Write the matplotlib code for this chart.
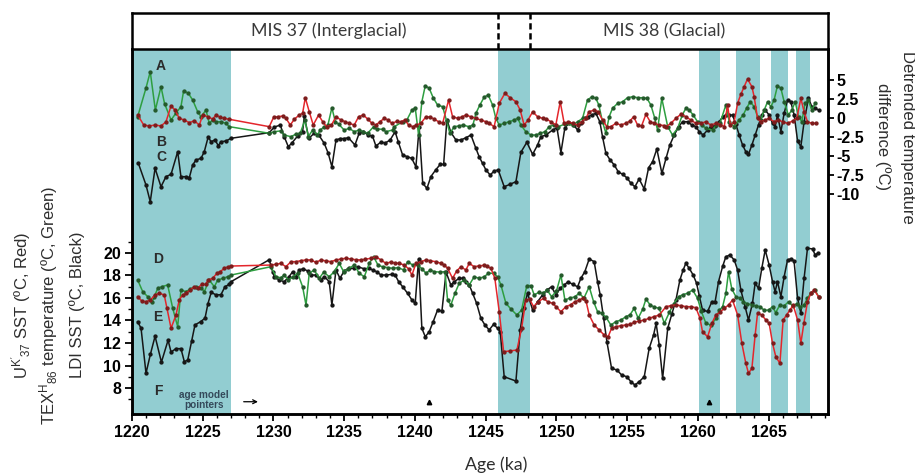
import matplotlib
matplotlib.use("Agg")
import matplotlib.pyplot as plt
from matplotlib.ticker import MultipleLocator, FixedLocator

plt.rcParams['axes.unicode_minus'] = False
plt.rcParams['mathtext.fontset'] = 'custom'
plt.rcParams['mathtext.rm'] = 'Liberation Sans'
plt.rcParams['mathtext.it'] = 'Liberation Sans:italic'

# ---------------- detrended temperature differences (upper traces) ----------------
age_uk_diff = [1220.40, 1220.83, 1221.22, 1221.63, 1222.05, 1222.40, 1222.76, 1223.04, 1223.34, 1223.70,
               1224.05, 1224.40, 1224.76, 1225.00, 1225.35, 1225.70, 1225.94, 1226.20, 1226.52, 1226.88,
               1229.70, 1230.01, 1230.30, 1230.65, 1230.88, 1231.19, 1231.47, 1231.82, 1232.06, 1232.25,
               1232.53, 1232.81, 1233.19, 1233.48, 1233.76, 1234.10, 1234.42, 1234.77, 1235.07, 1235.36,
               1235.71, 1236.02, 1236.35, 1236.66, 1236.96, 1237.24, 1237.53, 1237.83, 1238.10, 1238.37,
               1238.70, 1239.01, 1239.30, 1239.55, 1239.84, 1240.10, 1240.42, 1240.78, 1241.05, 1241.36,
               1241.67, 1241.96, 1242.38, 1242.66, 1243.02, 1243.30, 1243.60, 1243.96, 1244.31, 1244.66,
               1245.02, 1245.25, 1245.60, 1245.96, 1246.36, 1246.73, 1247.14, 1247.44, 1247.72, 1248.00,
               1248.32, 1248.67, 1249.02, 1249.30, 1249.61, 1249.96, 1250.27, 1250.55, 1250.85, 1251.14,
               1251.50, 1251.80, 1252.08, 1252.32, 1252.67, 1252.95, 1253.26, 1253.57, 1253.85, 1254.20,
               1254.56, 1254.91, 1255.20, 1255.46, 1255.74, 1256.02, 1256.33, 1256.63, 1256.91, 1257.27,
               1257.60, 1257.75, 1258.09, 1258.45, 1258.80, 1259.15, 1259.50, 1259.86, 1260.21, 1260.55,
               1260.92, 1261.27, 1261.60, 1261.86, 1262.10, 1262.30, 1262.57, 1262.81, 1263.04, 1263.27,
               1263.51, 1263.82, 1263.98, 1264.22, 1264.45, 1264.75, 1265.04, 1265.39, 1265.70, 1265.99,
               1266.34, 1266.70, 1267.00, 1267.28, 1267.51, 1267.75, 1268.06, 1268.34]
uk_diff = [0.39, -0.92, -1.05, -0.92, -1.05, -0.50, 1.58, 1.05, -0.04, -0.26,
           -0.62, -0.36, -0.92, 0.39, 0.17, -0.13, 0.39, 0.13, -0.04, -0.17,
           -1.14, 0.09, 0.17, 0.26, -0.04, -0.92, -0.17, 0.39, 0.62, 2.67,
           0.83, -0.92, 0.39, -0.49, -1.14, -0.92, 0.17, -0.26, -0.49, -0.70,
           -0.92, 0.17, 0.39, -0.13, -0.70, -0.92, -0.49, -0.04, -0.26, -0.70,
           -0.46, -0.49, -0.26, -0.92, -1.14, -0.92, -0.70, 0.17, 0.13, -0.13,
           -0.49, -0.70, 2.37, 0.17, -0.04, 0.13, 0.39, 0.17, -0.04, -0.26,
           -0.49, -0.70, -1.14, 1.93, 3.25, 2.67, 2.14, 1.05, -0.92, -0.26,
           0.83, 0.17, -0.04, -0.13, -0.49, -0.92, 2.14, -0.70, -0.50, -0.70,
           -0.92, -0.50, -0.04, 0.83, 1.05, 0.83, -0.26, -1.14, -1.14, -0.70,
           -0.92, -0.70, -0.40, 0.17, -0.92, -1.05, 0.49, -0.49, -0.70, -0.92,
           -0.99, -1.14, -0.70, -0.04, 0.49, 0.17, -0.26, -0.70, -0.70, -0.50,
           -0.92, -0.70, -0.86, -1.14, 1.71, -0.92, -0.49, 1.93, 3.12, 4.12,
           5.13, 4.12, 2.80, -0.04, -0.49, -0.26, -0.04, -0.49, -0.26, -0.49,
           -0.70, -0.39, 0.00, 2.59, 0.83, -0.49, -0.70, -0.70]

age_tex_diff = [1220.40, 1220.99, 1221.29, 1221.65, 1222.05, 1222.30, 1222.76, 1223.10, 1223.46, 1223.65,
                1223.98, 1224.29, 1224.64, 1224.88, 1225.23, 1225.46, 1225.70, 1225.94, 1226.29, 1226.64,
                1226.88, 1229.70, 1230.06, 1230.50, 1230.76, 1231.24, 1231.60, 1231.89, 1232.23, 1232.46,
                1232.77, 1233.10, 1233.31, 1233.59, 1233.85, 1234.13, 1234.37, 1234.60, 1235.00, 1235.36,
                1235.71, 1236.06, 1236.35, 1236.66, 1237.08, 1237.29, 1237.72, 1237.95, 1238.42, 1238.54,
                1239.13, 1239.43, 1239.79, 1240.02, 1240.26, 1240.49, 1240.73, 1241.01, 1241.29, 1241.60,
                1241.96, 1242.24, 1242.47, 1242.78, 1243.10, 1243.41, 1243.80, 1244.10, 1244.31, 1244.59,
                1244.90, 1245.18, 1245.49, 1245.72, 1245.96, 1246.31, 1246.66, 1247.02, 1247.26, 1247.49,
                1247.84, 1248.20, 1248.55, 1248.86, 1249.19, 1249.49, 1249.80, 1250.13, 1250.60, 1251.14,
                1251.50, 1251.85, 1252.20, 1252.51, 1252.79, 1253.00, 1253.26, 1253.50, 1253.73, 1253.97,
                1254.33, 1254.68, 1255.03, 1255.39, 1255.74, 1256.09, 1256.40, 1256.68, 1256.95, 1257.15,
                1257.45, 1257.87, 1258.21, 1258.57, 1258.90, 1259.15, 1259.39, 1259.67, 1259.98, 1260.28,
                1260.57, 1261.04, 1261.30, 1261.56, 1261.98, 1262.22, 1262.57, 1262.92, 1263.20, 1263.44,
                1263.70, 1263.98, 1264.22, 1264.45, 1264.69, 1264.93, 1265.16, 1265.39, 1265.63, 1265.87,
                1266.10, 1266.40, 1266.65, 1266.88, 1267.12, 1267.35, 1267.58, 1267.80, 1268.06, 1268.29]
tex_diff = [0.17, 3.95, 6.09, 1.05, 4.12, 1.90, -0.26, 0.62, 1.49, 3.59,
            3.25, 2.37, 0.83, 0.17, 1.05, -0.70, -0.26, -0.49, -0.49, -0.70,
            -1.14, -2.01, -1.80, -1.70, -2.24, -2.46, -2.10, -2.01, -0.26, -2.46,
            -1.58, -2.24, -1.58, -1.14, -0.92, 1.36, -0.49, -0.80, -1.58, -1.36,
            -1.80, -1.58, -1.80, -2.01, -1.14, -1.45, -1.49, -1.80, -1.58, -1.14,
            -0.49, -0.26, 1.05, 1.36, -2.24, 2.14, 4.25, 3.91, 2.67, 1.71,
            1.49, -0.39, -2.01, -1.14, -1.05, -0.92, -1.14, -0.92, 0.62, 1.71,
            2.76, 3.03, 1.71, -0.04, -0.92, -0.70, -0.49, -0.26, -0.04, -0.92,
            -1.80, -2.24, -2.24, -2.01, -1.80, -1.14, -0.92, -1.14, -0.80, -0.92,
            -0.50, -0.04, 2.37, 2.80, 2.59, 1.71, -0.49, -2.01, 0.17, 1.28,
            1.93, 2.14, 2.67, 2.80, 2.67, 2.67, 2.59, 1.71, 0.00, -1.58,
            2.59, -1.14, -2.24, -1.36, 0.39, 1.28, 1.05, 0.39, -0.49, -0.92,
            -1.36, -1.58, -0.92, -0.70, 1.71, -0.49, -1.14, -0.26, 0.39, 1.28,
            2.14, 1.49, 0.17, -0.26, 1.05, 2.14, 1.49, 2.37, 4.25, 3.91,
            2.14, 0.39, 1.05, 2.14, 0.17, -0.49, 1.93, 2.37, 1.05, 1.93]

age_ldi_diff = [1220.45, 1220.99, 1221.29, 1221.63, 1222.05, 1222.40, 1222.76, 1223.23, 1223.46, 1223.82,
                1224.05, 1224.29, 1224.52, 1224.88, 1225.11, 1225.39, 1225.58, 1225.87, 1226.10, 1226.29,
                1226.64, 1227.00, 1229.70, 1230.06, 1230.48, 1230.76, 1231.05, 1231.30, 1231.71, 1232.06,
                1232.18, 1232.50, 1232.88, 1233.20, 1233.59, 1233.87, 1234.13, 1234.42, 1234.72, 1235.00,
                1235.30, 1235.76, 1236.06, 1236.35, 1236.70, 1237.00, 1237.24, 1237.60, 1237.90, 1238.25,
                1238.60, 1238.82, 1239.13, 1239.46, 1239.77, 1240.07, 1240.30, 1240.55, 1240.85, 1241.13,
                1241.48, 1241.79, 1242.03, 1242.26, 1242.54, 1242.90, 1243.25, 1243.60, 1243.96, 1244.31,
                1244.54, 1244.78, 1245.02, 1245.32, 1245.60, 1245.89, 1246.31, 1246.73, 1247.14, 1247.49,
                1247.91, 1248.32, 1248.67, 1248.90, 1249.26, 1249.73, 1250.04, 1250.32, 1250.60, 1250.90,
                1251.22, 1251.50, 1251.73, 1252.01, 1252.25, 1252.49, 1252.79, 1253.07, 1253.26, 1253.50,
                1253.80, 1254.09, 1254.37, 1254.68, 1254.98, 1255.27, 1255.55, 1255.85, 1256.21, 1256.52,
                1256.80, 1257.10, 1257.46, 1257.75, 1258.02, 1258.33, 1258.64, 1258.92, 1259.27, 1259.58,
                1259.86, 1260.10, 1260.37, 1260.69, 1260.92, 1261.22, 1261.51, 1261.75, 1261.98, 1262.20,
                1262.45, 1262.69, 1262.92, 1263.16, 1263.39, 1263.58, 1263.82, 1264.05, 1264.29, 1264.52,
                1264.76, 1265.04, 1265.28, 1265.46, 1265.63, 1265.87, 1266.10, 1266.34, 1266.57, 1266.81,
                1267.05, 1267.28, 1267.51, 1267.82, 1268.06, 1268.29, 1268.53]
ldi_diff = [-5.96, -8.82, -11.01, -6.62, -9.04, -7.72, -7.41, -4.43, -7.72, -7.72,
            -7.86, -6.18, -5.53, -5.30, -4.43, -2.46, -3.12, -2.89, -3.64, -3.12,
            -3.03, -2.67, -1.93, -1.20, -0.92, -2.46, -3.78, -3.29, -2.37, -1.80,
            0.20, -2.67, -2.01, -2.24, -3.33, -4.64, -6.41, -2.90, -2.70, -2.70,
            -2.60, -3.55, -2.00, -1.80, -2.24, -2.37, -3.68, -3.16, -3.29, -2.89,
            -1.80, -3.12, -4.87, -5.09, -5.30, -6.41, -1.20, -8.60, -9.25, -7.70,
            -6.80, -6.10, -6.10, -0.20, -1.90, -2.89, -2.89, -2.60, -2.24, -3.99,
            -5.09, -5.96, -6.84, -7.50, -6.97, -6.84, -9.04, -8.72, -8.38, -4.51,
            -3.20, -4.78, -3.55, -2.46, -2.24, -1.58, -1.28, -4.57, -1.28, -0.70,
            -0.92, -1.58, -0.70, -0.04, 0.17, 0.39, 0.62, -0.49, -2.46, -4.64,
            -5.53, -6.18, -7.07, -7.41, -7.86, -8.59, -9.04, -8.03, -9.34, -6.54,
            -5.75, -4.08, -7.30, -5.30, -3.55, -2.24, -1.14, -0.49, -0.49, -0.92,
            -1.14, -1.80, -2.24, -1.58, -1.14, -1.01, -0.49, 0.17, 0.39, 0.40,
            0.39, -0.83, -2.24, -3.55, -4.43, -4.78, -3.55, -2.24, -0.92, 0.39,
            1.05, 0.39, -0.70, -1.14, 0.39, -1.80, 0.62, 2.37, 2.14, 0.39,
            -3.03, -3.78, -0.49, 2.59, 1.49, 1.28, 1.05]

# ---------------- absolute temperatures (lower traces) ----------------
age_uk = [1220.40, 1220.69, 1220.99, 1221.29, 1221.63, 1221.93, 1222.28, 1222.47, 1222.76, 1223.11,
          1223.34, 1223.58, 1223.82, 1224.12, 1224.40, 1224.64, 1224.93, 1225.20, 1225.39, 1225.70,
          1226.01, 1226.24, 1226.52, 1226.81, 1227.00, 1229.82, 1230.20, 1230.53, 1230.88, 1231.24,
          1231.60, 1231.94, 1232.30, 1232.65, 1233.00, 1233.36, 1233.70, 1234.06, 1234.42, 1234.77,
          1235.12, 1235.48, 1235.80, 1236.18, 1236.50, 1236.89, 1237.24, 1237.60, 1237.95, 1238.30,
          1238.60, 1238.89, 1239.24, 1239.55, 1239.79, 1240.07, 1240.42, 1240.78, 1241.10, 1241.48,
          1241.84, 1242.07, 1242.31, 1242.66, 1242.95, 1243.25, 1243.60, 1243.84, 1244.19, 1244.50,
          1244.85, 1245.10, 1245.37, 1245.65, 1245.96, 1246.27, 1246.75, 1247.21, 1247.54, 1247.84,
          1248.10, 1248.39, 1248.71, 1249.09, 1249.38, 1249.73, 1250.00, 1250.32, 1250.67, 1251.00,
          1251.31, 1251.61, 1251.85, 1252.10, 1252.32, 1252.67, 1253.02, 1253.38, 1253.66, 1253.90,
          1254.20, 1254.56, 1254.90, 1255.22, 1255.50, 1255.85, 1256.21, 1256.56, 1256.91, 1257.27,
          1257.75, 1258.09, 1258.45, 1258.80, 1259.15, 1259.51, 1259.86, 1260.15, 1260.33, 1260.69,
          1260.99, 1261.27, 1261.56, 1261.86, 1262.17, 1262.45, 1262.81, 1263.11, 1263.39, 1263.58,
          1263.82, 1264.05, 1264.22, 1264.52, 1264.81, 1265.04, 1265.28, 1265.51, 1265.80, 1266.03,
          1266.27, 1266.50, 1266.74, 1267.05, 1267.28, 1267.50, 1267.75, 1267.99, 1268.22, 1268.53]
uk_sst = [16.12, 15.73, 15.67, 15.82, 16.27, 16.42, 16.27, 15.08, 13.31, 14.49,
          15.82, 16.27, 16.42, 16.71, 17.00, 16.86, 17.22, 17.20, 17.60, 17.75,
          18.20, 18.34, 18.64, 18.78, 18.84, 18.93, 19.00, 19.08, 18.78, 19.23,
          19.23, 19.32, 19.38, 19.38, 19.17, 19.38, 19.30, 19.23, 19.38, 19.47,
          19.53, 19.47, 19.40, 19.38, 19.45, 19.53, 19.67, 19.38, 19.08, 19.20,
          19.10, 19.08, 18.93, 18.60, 18.04, 19.08, 19.23, 19.38, 19.30, 19.23,
          19.08, 18.93, 18.64, 17.75, 18.40, 18.78, 18.49, 19.08, 18.78, 18.85,
          18.90, 18.80, 18.64, 17.75, 14.78, 11.23, 11.30, 11.38, 13.31, 15.82,
          15.90, 15.23, 15.67, 15.97, 15.67, 15.53, 15.20, 14.78, 15.23, 15.40,
          15.67, 15.82, 15.97, 15.70, 14.49, 13.60, 13.16, 12.71, 12.56, 13.31,
          13.45, 13.54, 13.60, 13.66, 13.84, 13.96, 14.04, 14.20, 14.34, 14.49,
          15.23, 15.32, 15.38, 15.32, 15.23, 15.23, 15.14, 14.20, 13.00, 12.56,
          13.75, 14.49, 14.73, 15.08, 15.38, 15.82, 14.49, 11.97, 10.20, 9.31,
          9.75, 12.71, 14.64, 14.49, 14.04, 13.75, 11.97, 10.78, 10.20, 14.04,
          14.49, 14.90, 15.38, 14.04, 11.97, 13.80, 15.67, 16.42, 16.71, 16.12]

age_tex = [1220.40, 1220.76, 1221.11, 1221.40, 1221.58, 1221.82, 1222.10, 1222.52, 1222.88, 1223.23,
           1223.46, 1223.82, 1224.10, 1224.52, 1224.90, 1225.11, 1225.46, 1225.82, 1226.06, 1226.41,
           1226.76, 1227.00, 1229.82, 1230.18, 1230.50, 1230.76, 1231.05, 1231.40, 1231.71, 1232.06,
           1232.30, 1232.53, 1232.88, 1233.24, 1233.55, 1233.94, 1234.30, 1234.65, 1234.96, 1235.30,
           1235.71, 1236.06, 1236.42, 1236.77, 1237.08, 1237.40, 1237.72, 1238.07, 1238.42, 1238.80,
           1239.20, 1239.48, 1239.84, 1240.20, 1240.50, 1240.78, 1241.10, 1241.36, 1241.80, 1242.12,
           1242.31, 1242.54, 1242.83, 1243.13, 1243.48, 1243.84, 1244.19, 1244.54, 1244.90, 1245.20,
           1245.56, 1245.84, 1246.08, 1246.43, 1246.80, 1247.21, 1247.54, 1247.91, 1248.20, 1248.43,
           1248.75, 1249.02, 1249.35, 1249.66, 1250.00, 1250.32, 1250.60, 1250.95, 1251.30, 1251.61,
           1251.95, 1252.32, 1252.63, 1252.91, 1253.19, 1253.50, 1253.85, 1254.20, 1254.56, 1254.91,
           1255.20, 1255.50, 1255.78, 1256.10, 1256.33, 1256.63, 1256.91, 1257.27, 1257.63, 1257.99,
           1258.30, 1258.64, 1258.95, 1259.27, 1259.63, 1259.98, 1260.25, 1260.57, 1260.92, 1261.30,
           1261.50, 1261.75, 1261.98, 1262.17, 1262.40, 1262.69, 1262.95, 1263.20, 1263.50, 1263.82,
           1264.10, 1264.38, 1264.70, 1265.00, 1265.28, 1265.50, 1265.80, 1266.10, 1266.41, 1266.70,
           1267.00, 1267.20, 1267.51, 1267.75, 1267.99, 1268.29, 1268.53]
tex_temp = [17.60, 16.56, 16.12, 15.60, 16.12, 16.86, 17.00, 17.16, 15.08, 13.45,
            16.71, 16.56, 16.80, 17.00, 16.90, 16.56, 17.60, 17.00, 17.60, 17.75,
            17.89, 18.04, 18.78, 17.89, 17.80, 18.04, 17.60, 17.90, 18.20, 17.00,
            15.38, 18.20, 18.49, 17.75, 18.30, 17.89, 18.34, 19.08, 18.34, 18.60,
            18.93, 18.20, 17.89, 19.08, 19.67, 18.90, 18.78, 18.70, 18.64, 18.70,
            18.50, 19.23, 18.93, 18.90, 18.60, 18.20, 18.50, 18.34, 18.30, 18.34,
            15.80, 15.38, 16.42, 17.31, 17.60, 17.16, 17.89, 17.75, 17.89, 18.20,
            18.20, 17.89, 17.16, 15.53, 15.00, 14.49, 14.93, 17.10, 17.10, 16.27,
            16.50, 16.42, 16.70, 16.12, 16.60, 18.04, 15.82, 16.00, 16.10, 16.42,
            16.00, 17.00, 15.67, 14.78, 14.64, 14.30, 13.60, 13.90, 14.04, 14.34,
            14.50, 15.08, 14.20, 15.00, 15.90, 15.38, 15.20, 15.08, 13.75, 14.73,
            15.50, 16.12, 16.30, 16.42, 16.71, 15.97, 14.80, 13.75, 13.60, 14.20,
            14.90, 15.23, 16.42, 18.34, 16.80, 16.12, 16.00, 15.67, 15.50, 15.38,
            15.30, 15.23, 14.90, 14.93, 15.23, 14.70, 15.38, 15.30, 15.67, 15.30,
            15.50, 15.20, 15.38, 16.00, 16.42, 16.71, 16.12]

age_ldi = [1220.40, 1220.64, 1220.99, 1221.30, 1221.63, 1222.08, 1222.55, 1222.76, 1223.11, 1223.46,
           1223.70, 1223.94, 1224.22, 1224.45, 1224.85, 1225.16, 1225.37, 1225.60, 1225.95, 1226.29,
           1226.57, 1226.88, 1227.00, 1229.70, 1229.95, 1230.06, 1230.41, 1230.76, 1231.10, 1231.36,
           1231.60, 1231.82, 1232.10, 1232.42, 1232.65, 1233.00, 1233.36, 1233.60, 1233.94, 1234.13,
           1234.42, 1234.70, 1235.00, 1235.31, 1235.71, 1235.95, 1236.40, 1236.77, 1237.01, 1237.29,
           1237.60, 1237.95, 1238.37, 1238.60, 1238.85, 1239.13, 1239.48, 1239.79, 1240.02, 1240.26,
           1240.49, 1240.73, 1241.01, 1241.29, 1241.60, 1241.91, 1242.20, 1242.54, 1242.78, 1243.13,
           1243.37, 1243.60, 1243.84, 1244.08, 1244.36, 1244.66, 1244.95, 1245.25, 1245.56, 1245.84,
           1246.03, 1246.31, 1247.14, 1247.44, 1247.68, 1247.96, 1248.32, 1248.67, 1249.02, 1249.33,
           1249.66, 1249.96, 1250.27, 1250.55, 1250.83, 1251.14, 1251.50, 1251.73, 1252.01, 1252.32,
           1252.67, 1252.91, 1253.10, 1253.34, 1253.57, 1253.90, 1254.28, 1254.61, 1254.98, 1255.27,
           1255.55, 1255.85, 1256.21, 1256.56, 1256.87, 1257.05, 1257.27, 1257.51, 1257.87, 1258.16,
           1258.45, 1258.73, 1258.96, 1259.15, 1259.39, 1259.67, 1259.91, 1260.10, 1260.33, 1260.69,
           1260.99, 1261.22, 1261.46, 1261.75, 1261.98, 1262.26, 1262.57, 1262.81, 1263.04, 1263.34,
           1263.58, 1263.86, 1264.05, 1264.29, 1264.52, 1264.76, 1265.04, 1265.28, 1265.46, 1265.63,
           1265.87, 1266.10, 1266.34, 1266.57, 1266.80, 1267.05, 1267.28, 1267.51, 1267.75, 1268.11,
           1268.29, 1268.46]
ldi_sst = [13.89, 13.31, 9.31, 11.00, 12.60, 10.30, 12.25, 11.20, 11.50, 11.50,
           10.34, 10.49, 12.20, 13.60, 13.90, 14.20, 15.50, 16.50, 16.27, 16.30,
           17.00, 17.22, 17.45, 19.40, 18.30, 17.89, 17.60, 17.45, 17.90, 18.34,
           17.90, 18.49, 18.60, 18.40, 18.04, 18.04, 17.60, 17.90, 17.45, 15.38,
           18.49, 17.75, 18.40, 18.64, 18.64, 18.78, 18.60, 18.64, 18.49, 18.34,
           18.04, 18.04, 18.10, 18.04, 17.45, 17.00, 16.42, 15.82, 15.53, 19.47,
           13.31, 12.56, 13.00, 13.89, 14.93, 14.84, 18.30, 17.15, 17.45, 17.75,
           17.75, 17.45, 17.16, 16.42, 15.53, 14.20, 13.60, 13.16, 13.66, 13.31,
           13.00, 9.00, 8.62, 13.16, 15.08, 16.42, 14.93, 15.67, 16.27, 16.71,
           17.00, 16.27, 16.86, 17.16, 17.45, 17.22, 17.00, 17.75, 18.34, 19.47,
           19.23, 17.45, 16.27, 14.20, 12.12, 9.75, 9.60, 9.16, 9.00, 8.56,
           8.27, 8.56, 9.00, 11.53, 12.71, 13.75, 11.82, 8.86, 13.31, 14.55,
           15.82, 17.60, 18.49, 19.08, 18.64, 18.04, 17.31, 16.20, 14.93, 14.80,
           15.67, 15.67, 17.45, 18.80, 19.67, 19.82, 19.38, 18.49, 16.71, 15.23,
           14.04, 15.53, 17.31, 16.86, 18.64, 20.27, 18.93, 17.45, 16.56, 17.45,
           16.12, 17.89, 19.38, 19.47, 19.30, 15.97, 14.64, 17.75, 20.42, 20.36,
           19.82, 19.97]

# interglacial-like intervals highlighted in teal
bands = [(1220.0, 1227.0), (1245.9, 1248.15), (1260.1, 1261.55),
         (1262.7, 1264.4), (1265.2, 1266.4), (1266.95, 1267.9)]
mis_boundary = [1245.9, 1248.15]
age_pointers = [1241.0, 1260.8]

x_ticks = [1220, 1225, 1230, 1235, 1240, 1245, 1250, 1255, 1260, 1265]
sst_ticks = [8, 10, 12, 14, 16, 18, 20]
diff_ticks = [5, 2.5, 0, -2.5, -5, -7.5, -10]

# ---------------- figure layout ----------------
W, H = 915, 474
fig = plt.figure(figsize=(W / 100, H / 100), dpi=100)
L, R = 132 / W, 828 / W
B, T = (H - 414) / H, (H - 49) / H
ax = fig.add_axes([L, B, R - L, T - B])
axh = fig.add_axes([L, T, R - L, (49 - 13) / H])
ax2 = ax.twinx()

xlim = (1220.0, 1269.2)
band_col = '#92cdd1'
tick_font = dict(family='Liberation Sans', weight='bold', size=11.5)

for a, b in bands:
    ax.axvspan(a, b, color=band_col, lw=0, zorder=0)

MS = 2.1
# lower panel: temperatures
ax.plot(age_ldi, ldi_sst, '-o', color='#161616', lw=1.1, ms=MS, mfc='#161616', mec='#161616', zorder=3)
ax.plot(age_tex, tex_temp, '-o', color='#2e9e40', lw=1.1, ms=MS, mfc='#24592b', mec='#24592b', zorder=4)
ax.plot(age_uk, uk_sst, '-o', color='#e4262c', lw=1.1, ms=MS, mfc='#7d1c1c', mec='#7d1c1c', zorder=5)

# upper panel: detrended differences
ax2.plot(age_ldi_diff, ldi_diff, '-o', color='#161616', lw=1.1, ms=MS, mfc='#161616', mec='#161616', zorder=3)
ax2.plot(age_tex_diff, tex_diff, '-o', color='#2e9e40', lw=1.1, ms=MS, mfc='#24592b', mec='#24592b', zorder=4)
ax2.plot(age_uk_diff, uk_diff, '-o', color='#e4262c', lw=1.1, ms=MS, mfc='#7d1c1c', mec='#7d1c1c', zorder=5)

ax.set_xlim(*xlim)
ax.set_ylim(5.69, 38.13)
ax2.set_ylim(-38.95, 9.08)

ax.xaxis.set_major_locator(FixedLocator(x_ticks))
ax.xaxis.set_minor_locator(MultipleLocator(1))
ax.yaxis.set_major_locator(FixedLocator(sst_ticks))
ax.yaxis.set_minor_locator(FixedLocator([7, 9, 11, 13, 15, 17, 19, 21]))
ax2.yaxis.set_major_locator(FixedLocator(diff_ticks))
ax2.yaxis.set_minor_locator(FixedLocator([]))
ax2.set_yticklabels(['5', '2.5', '0', '-2.5', '-5', '-7.5', '-10'])

ax.tick_params(axis='both', which='major', direction='out', length=5, width=1.3, pad=3)
ax.tick_params(axis='both', which='minor', direction='out', length=3, width=1.0)
ax2.tick_params(axis='y', which='major', direction='out', length=4, width=1.3, pad=2)
for lab in ax.get_xticklabels() + ax.get_yticklabels() + ax2.get_yticklabels():
    lab.set_fontproperties(matplotlib.font_manager.FontProperties(**tick_font))

for a in (ax, ax2):
    for s in a.spines.values():
        s.set_linewidth(1.8)
ax.spines['top'].set_visible(False)
ax2.spines['top'].set_visible(False)

# header band with stage names
axh.set_xlim(*xlim)
axh.set_ylim(0, 1)
axh.set_xticks([])
axh.set_yticks([])
for s in axh.spines.values():
    s.set_linewidth(1.8)
for xb in mis_boundary:
    axh.axvline(xb, color='black', lw=1.8, ls=(0, (2.5, 1.5)))
hdr_font = dict(family='Lato', size=12.8, color='#3a3a3a')
axh.text(1233.9, 0.5, 'MIS 37 (Interglacial)', ha='center', va='center', **hdr_font)
axh.text(1257.6, 0.5, 'MIS 38 (Glacial)', ha='center', va='center', **hdr_font)

# panel letters
lab_font = dict(family='Liberation Sans', weight='bold', size=10, color='#2b2b2b', ha='center', va='center')
ax2.text(1222.05, 6.8, 'A', **lab_font)
ax2.text(1222.05, -3.2, 'B', **lab_font)
ax2.text(1222.05, -5.1, 'C', **lab_font)
ax.text(1221.85, 19.5, 'D', **lab_font)
ax.text(1221.85, 14.3, 'E', **lab_font)
ax.text(1221.85, 7.7, 'F', **lab_font)

# age model pointers
ax.text(1225.1, 6.95, 'age model\npointers', ha='center', va='center', family='Liberation Sans',
        weight='bold', size=7.2, color='#34495a', linespacing=0.95)
ax.annotate('', xy=(1229.1, 6.78), xytext=(1227.7, 6.78),
            arrowprops=dict(arrowstyle='->', lw=0.9, color='black', mutation_scale=7))
ax.plot(age_pointers, [6.76] * len(age_pointers), '^', color='black', ms=3.2, zorder=6)

# axis titles
lab_col = '#2e2e2e'
fig.text(496 / W, 1 - 465 / H, 'Age (ka)', ha='center', va='center', family='Lato', size=12.8, color=lab_col)
yc = 1 - 305 / H
fig.text(21 / W, yc, r"U$^{\mathrm{K'}}$$_{37}$ SST (ºC, Red)", rotation=90, ha='center', va='center',
         family='Liberation Sans', size=12, color=lab_col)
fig.text(49 / W, yc, r"TEX$^{\mathrm{H}}$$_{86}$ temperature (ºC, Green)", rotation=90, ha='center', va='center',
         family='Liberation Sans', size=12, color=lab_col)
fig.text(77 / W, yc, 'LDI SST (ºC, Black)', rotation=90, ha='center', va='center',
         family='Liberation Sans', size=12, color=lab_col)
yr = 1 - 137 / H
fig.text(908 / W, yr, 'Detrended temperature', rotation=-90, ha='center', va='center',
         family='Liberation Sans', size=12, color=lab_col)
fig.text(883 / W, yr, 'difference (ºC)', rotation=-90, ha='center', va='center',
         family='Liberation Sans', size=12, color=lab_col)

fig.savefig('out.png', dpi=100)
